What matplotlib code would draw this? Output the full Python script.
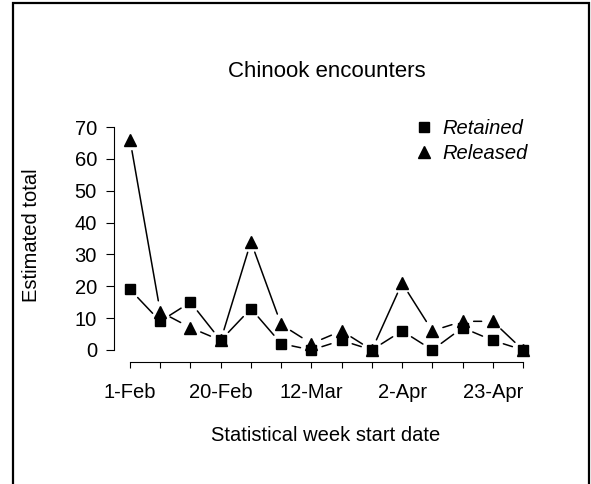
"""
Chinook encounters per statistical week: retained vs released.
"""

import matplotlib
matplotlib.use("Agg")
import matplotlib.pyplot as plt
from matplotlib.patches import Rectangle
from matplotlib.lines import Line2D

plt.rcParams["font.family"] = ["Liberation Sans", "DejaVu Sans"]

# one entry per statistical week; only every third week gets a label
SEMAINES = ["1-Feb", "", "", "20-Feb", "", "", "12-Mar", "", "",
            "2-Apr", "", "", "23-Apr", ""]
RETENUS = [19, 9, 15, 3, 13, 2, 0, 3, 0, 6, 0, 7, 3, 0]
RELACHES = [66, 12, 7, 3, 34, 8, 2, 6, 0, 21, 6, 9, 9, 0]

W, H = 591, 484
TAILLE = 14.5


def relier(ax, xs, ys, gap=8.0):
    # comme type="b" dans R : segments coupés autour des points
    for i in range(len(xs) - 1):
        ax.annotate("", xy=(xs[i + 1], ys[i + 1]), xytext=(xs[i], ys[i]),
                    arrowprops=dict(arrowstyle="-", lw=1.1, color="black",
                                    shrinkA=gap, shrinkB=gap))


fig = plt.figure(figsize=(W / 100, H / 100), dpi=100)
ax = fig.add_axes([114.3 / W, 1 - 358.9 / H, (538.7 - 114.3) / W, (358.9 - 118.1) / H])

x = list(range(len(SEMAINES)))
relier(ax, x, RETENUS)
relier(ax, x, RELACHES)
ax.plot(x, RETENUS, "s", ms=7.5, color="black", ls="none")
ax.plot(x, RELACHES, "^", ms=8.5, color="black", ls="none")

ax.set_xlim(-0.52, 13.52)
ax.set_ylim(-2.8, 72.8)
ax.set_xticks(x)
ax.set_xticklabels(SEMAINES)
ax.set_yticks(range(0, 71, 10))
ax.tick_params(axis="y", labelsize=TAILLE, length=5.5, width=0.8, pad=7)
ax.tick_params(axis="x", labelsize=TAILLE, length=4, width=0.8, pad=11)

for cote in ("top", "right"):
    ax.spines[cote].set_visible(False)
ax.spines["left"].set_bounds(0, 70)
ax.spines["bottom"].set_bounds(0, 13)
ax.spines["bottom"].set_position(("outward", 2.3))
ax.spines["left"].set_linewidth(0.8)
ax.spines["bottom"].set_linewidth(0.8)

fig.text(326.5 / W, 1 - 77 / H, "Chinook encounters", ha="center", va="baseline",
         fontsize=16)
fig.text(325.5 / W, 1 - 441 / H, "Statistical week start date", ha="center",
         va="baseline", fontsize=TAILLE)
fig.text(37 / W, 1 - 235 / H, "Estimated total", ha="center", va="baseline",
         rotation=90, rotation_mode="anchor", fontsize=TAILLE)

poignees = [Line2D([], [], marker="s", ms=7.5, color="black", ls="none"),
            Line2D([], [], marker="^", ms=8.5, color="black", ls="none")]
leg = ax.legend(poignees, ["Retained", "Released"], loc="upper left",
                bbox_to_anchor=(414 / W, 1 - 119 / H), bbox_transform=fig.transFigure,
                frameon=False, fontsize=TAILLE, handlelength=1.0,
                handletextpad=0.4, labelspacing=0.3, borderpad=0,
                borderaxespad=0)
for t in leg.get_texts():
    t.set_fontstyle("italic")

fig.add_artist(Rectangle((13 / W, -0.05), (589 - 13) / W, 1.05 - 3 / H,
                         transform=fig.transFigure, fill=False,
                         lw=1.6, ec="black"))

fig.savefig("out.png", dpi=100)
